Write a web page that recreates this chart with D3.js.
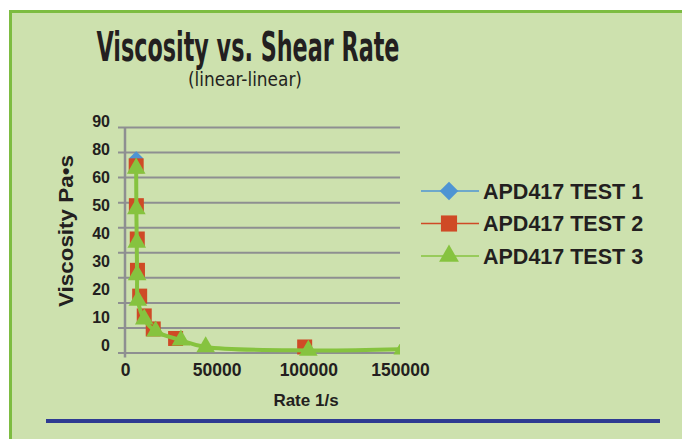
<!DOCTYPE html>
<html>
<head>
<meta charset="utf-8">
<script src="https://cdn.jsdelivr.net/npm/d3@7"></script>
<style>
  html, body { margin: 0; padding: 0; background: #ffffff; }
  svg { display: block; }
  text { font-family: "Liberation Sans", Arial, sans-serif; fill: #231f20; }
</style>
</head>
<body>
<svg id="chart"></svg>
<script>
// data (rate 1/s, viscosity Pa*s)
var test1Rate = [6100, 6200, 6700, 6800, 8000, 10500, 15400, 27600, 98000];
var test1Visc = [77.5, 58.6, 45.3, 32.8, 22.5, 14.6, 9.4, 5.6, 2.2];
var test2Rate = [6100, 6200, 6700, 6800, 8000, 10500, 15400, 27600, 98000];
var test2Visc = [74.5, 58.6, 45.3, 32.8, 22.5, 14.6, 9.4, 5.6, 2.2];
var test3Rate = [6100, 6200, 6400, 6600, 7000, 10500, 16700, 30500, 44000, 100000, 151500];
var test3Visc = [73.5, 57.3, 44, 31, 20.8, 13.3, 8.5, 4.9, 2.2, 0.8, 1.3];

var seriesNames = ["APD417 TEST 1", "APD417 TEST 2", "APD417 TEST 3"];
var yTickLabels = ["90", "80", "60", "50", "40", "30", "20", "10", "0"];
var xTickValues = [0, 50000, 100000, 150000];

var colors = ["#4e94d3", "#cf4a26", "#86c33f"];
var symbols = [d3.symbolDiamond2, d3.symbolSquare, d3.symbolTriangle];

function zip(xs, ys) { return xs.map(function(x, i) { return { x: x, y: ys[i] }; }); }
var series = [zip(test1Rate, test1Visc), zip(test2Rate, test2Visc), zip(test3Rate, test3Visc)];

var width = 682, height = 439;
var chart = d3.select('#chart').attr('width', width).attr('height', height);

// green panel with border
chart.append('rect')
  .attr('x', 10.5).attr('y', 11.5)
  .attr('width', 700).attr('height', 460)
  .attr('fill', '#cde1ae')
  .attr('stroke', '#7dbc41').attr('stroke-width', 3);

// title
chart.append('text')
  .attr('x', 248).attr('y', 61)
  .attr('text-anchor', 'middle')
  .attr('textLength', 303).attr('lengthAdjust', 'spacingAndGlyphs')
  .style('font-family', '"Liberation Sans Narrow", "DejaVu Sans Condensed", sans-serif')
  .style('font-weight', 'bold').style('font-size', '41px')
  .text('Viscosity vs. Shear Rate');

chart.append('text')
  .attr('x', 245).attr('y', 86)
  .attr('text-anchor', 'middle')
  .attr('textLength', 114).attr('lengthAdjust', 'spacingAndGlyphs')
  .style('font-family', '"Liberation Sans Narrow", "DejaVu Sans Condensed", sans-serif')
  .style('font-size', '19px')
  .text('(linear-linear)');

// scales
var xScale = d3.scaleLinear().domain([0, 150000]).range([125, 400]);
var yScale = d3.scaleLinear().domain([0, 90]).range([352.5, 127]);
var yLabelScale = d3.scalePoint().domain(yTickLabels).range([121.5, 345]);

// horizontal gridlines
var grid = chart.append('g')
  .attr('transform', 'translate(400,0)')
  .call(d3.axisLeft(yScale).ticks(9).tickSize(282).tickFormat(''));
grid.select('.domain').remove();
grid.selectAll('line').attr('stroke', '#8e8f91').attr('stroke-width', 2);

// vertical axis line
chart.append('line')
  .attr('x1', xScale(0)).attr('x2', xScale(0))
  .attr('y1', yScale(90)).attr('y2', yScale(0) + 5)
  .attr('stroke', '#8e8f91').attr('stroke-width', 2.5);

// y tick labels
chart.append('g').selectAll('text')
  .data(yTickLabels)
  .enter().append('text')
    .attr('x', 110)
    .attr('y', function(d) { return yLabelScale(d); })
    .attr('dy', '0.36em')
    .attr('text-anchor', 'end')
    .style('font-weight', 'bold').style('font-size', '16px')
    .text(function(d) { return d; });

// x tick labels
var xAxis = chart.append('g')
  .attr('transform', 'translate(0,' + 361 + ')')
  .call(d3.axisBottom(xScale).tickValues(xTickValues).tickSize(0).tickFormat(d3.format('d')));
xAxis.select('.domain').remove();
xAxis.selectAll('text')
  .style('font-family', '"Liberation Sans", Arial, sans-serif')
  .style('font-weight', 'bold').style('font-size', '17.5px')
  .attr('fill', '#231f20');

// axis titles
chart.append('text')
  .attr('x', 306).attr('y', 406)
  .attr('text-anchor', 'middle')
  .style('font-weight', 'bold').style('font-size', '17px')
  .text('Rate 1/s');

chart.append('text')
  .attr('transform', 'translate(73,231) rotate(-90)')
  .attr('text-anchor', 'middle')
  .attr('textLength', 152).attr('lengthAdjust', 'spacingAndGlyphs')
  .style('font-weight', 'bold').style('font-size', '21px')
  .text('Viscosity Pa\u2022s');

// plot clip
chart.append('clipPath').attr('id', 'plot-clip')
  .append('rect').attr('x', 100).attr('y', 100).attr('width', 300).attr('height', 280);

var plot = chart.append('g').attr('clip-path', 'url(#plot-clip)');

// only the test 3 curve shows in the plot, the others lie under it
var line = d3.line()
  .x(function(d) { return xScale(d.x); })
  .y(function(d) { return yScale(d.y); })
  .curve(d3.curveCatmullRom.alpha(0.5));

var markerSizes = [128, 225, 150];

series.forEach(function(s, i) {
  if (i == 2) {
    plot.append('path')
      .datum(s)
      .attr('d', line)
      .attr('fill', 'none')
      .attr('stroke', colors[i])
      .attr('stroke-width', 4);
  }
  plot.append('g').selectAll('path')
    .data(s)
    .enter().append('path')
      .attr('transform', function(d) { return 'translate(' + xScale(d.x) + ',' + yScale(d.y) + ')'; })
      .attr('d', d3.symbol().type(symbols[i]).size(markerSizes[i]))
      .attr('fill', colors[i]);
});

// legend
var legend = chart.append('g').selectAll('g')
  .data(seriesNames)
  .enter().append('g')
    .attr('transform', function(d, i) { return 'translate(421,' + (191 + i * 32.5) + ')'; });
legend.append('line')
  .attr('x1', 0).attr('x2', 58)
  .attr('stroke', function(d, i) { return colors[i]; })
  .attr('stroke-width', 1.5);
legend.append('path')
  .attr('transform', 'translate(28,0)')
  .attr('d', function(d, i) { return d3.symbol().type(symbols[i]).size([220, 260, 170][i])(); })
  .attr('fill', function(d, i) { return colors[i]; });
legend.append('text')
  .attr('x', 62).attr('dy', '0.36em')
  .style('font-weight', 'bold').style('font-size', '21.5px')
  .text(function(d) { return d; });

// blue rule at the bottom
chart.append('line')
  .attr('x1', 46).attr('x2', 660)
  .attr('y1', 421).attr('y2', 421)
  .attr('stroke', '#2e3b92').attr('stroke-width', 4);
</script>
</body>
</html>
